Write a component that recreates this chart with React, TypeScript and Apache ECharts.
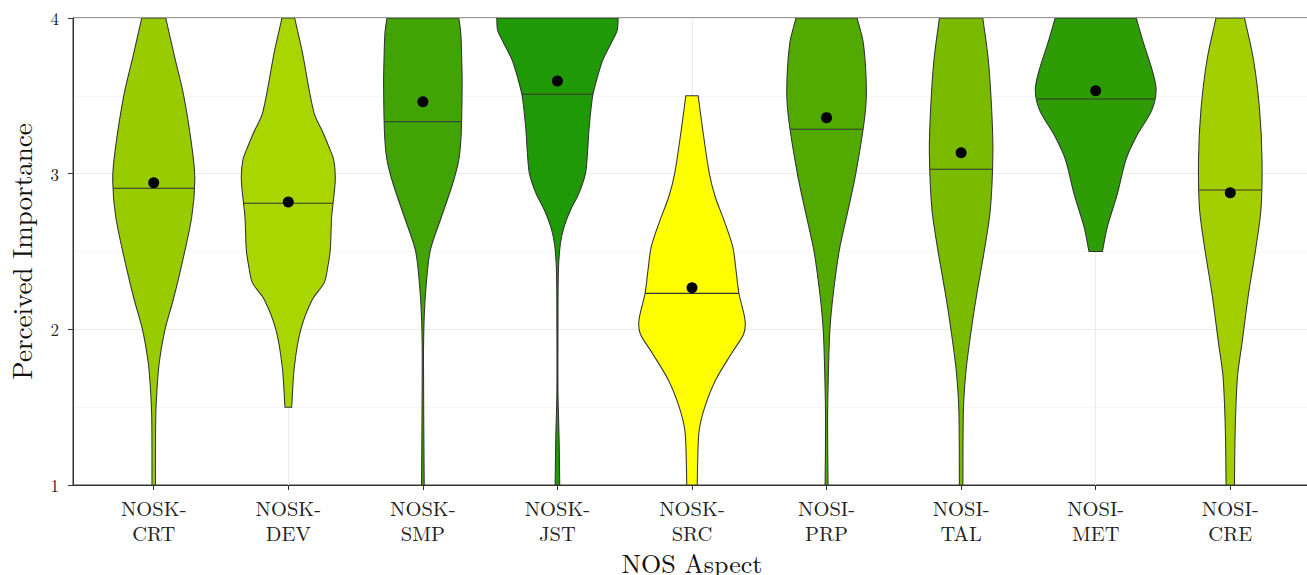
import React, { useEffect, useRef } from 'react';
import * as echarts from 'echarts';

const categories = ['NOSK-\nCRT', 'NOSK-\nDEV', 'NOSK-\nSMP', 'NOSK-\nJST', 'NOSK-\nSRC', 'NOSI-\nPRP', 'NOSI-\nTAL', 'NOSI-\nMET', 'NOSI-\nCRE'];
const categoryPositions = [1, 2, 3, 4, 5, 6, 7, 8, 9];
const fillColors = ['#99CC00', '#A9D500', '#41A304', '#1F9905', '#FFFF00', '#52A900', '#7ABB00', '#2E9C05', '#A3CF00'];
const means = [2.942, 2.818, 3.462, 3.595, 2.267, 3.36, 3.135, 3.533, 2.878];
const medians = [2.906, 2.81, 3.334, 3.51, 2.231, 3.285, 3.028, 3.48, 2.895];
const yTicks = [1, 2, 3, 4];

// Violin outlines: response levels and half-widths (in category units)
const crtLevels = [4, 3.75, 3.5, 3.15, 2.96, 2.72, 2.4, 2.19, 2.0, 1.8, 1.65, 1.44, 1];
const crtWidths = [0.089, 0.155, 0.223, 0.287, 0.305, 0.282, 0.204, 0.145, 0.084, 0.043, 0.027, 0.015, 0.013];
const devLevels = [4, 3.79, 3.39, 3.26, 3.17, 3.09, 2.96, 2.72, 2.51, 2.4, 2.3, 2.19, 2.0, 1.76, 1.5];
const devWidths = [0.047, 0.102, 0.191, 0.26, 0.303, 0.337, 0.349, 0.322, 0.312, 0.293, 0.267, 0.178, 0.093, 0.045, 0.025];
const smpLevels = [4, 3.9, 3.69, 3.58, 3.26, 3.09, 2.94, 2.72, 2.51, 2.3, 2.08, 1.8, 1.0];
const smpWidths = [0.267, 0.282, 0.29, 0.292, 0.285, 0.267, 0.223, 0.137, 0.056, 0.026, 0.01, 0.0045, 0.01];
const jstLevels = [4, 3.92, 3.84, 3.73, 3.62, 3.5, 3.3, 3.13, 3.0, 2.87, 2.77, 2.66, 2.55, 2.38, 2.0, 1.6, 1.27, 1.0];
const jstWidths = [0.451, 0.444, 0.4, 0.337, 0.297, 0.262, 0.236, 0.223, 0.208, 0.158, 0.099, 0.05, 0.022, 0.0074, 0.004, 0.004, 0.013, 0.017];
const srcLevels = [3.5, 3.28, 3.0, 2.85, 2.7, 2.53, 2.38, 2.23, 2.06, 1.97, 1.85, 1.67, 1.5, 1.35, 1.14, 1.0];
const srcWidths = [0.046, 0.08, 0.129, 0.173, 0.238, 0.303, 0.327, 0.349, 0.394, 0.384, 0.297, 0.173, 0.095, 0.053, 0.042, 0.039];
const prpLevels = [4, 3.84, 3.54, 3.345, 3.0, 2.77, 2.51, 2.23, 2.0, 1.7, 1.4, 1.0];
const prpWidths = [0.227, 0.273, 0.296, 0.281, 0.217, 0.161, 0.095, 0.05, 0.025, 0.013, 0.0074, 0.011];
const talLevels = [4, 3.73, 3.41, 3.13, 2.77, 2.51, 2.23, 2.0, 1.74, 1.48, 1.0];
const talWidths = [0.161, 0.202, 0.227, 0.236, 0.217, 0.173, 0.117, 0.076, 0.037, 0.017, 0.013];
const metLevels = [4, 3.84, 3.67, 3.54, 3.41, 3.24, 3.09, 2.87, 2.66, 2.5];
const metWidths = [0.301, 0.355, 0.418, 0.449, 0.418, 0.303, 0.225, 0.161, 0.087, 0.05];
const creLevels = [4, 3.73, 3.41, 3.09, 2.77, 2.51, 2.23, 1.91, 1.7, 1.37, 1.0];
const creWidths = [0.106, 0.173, 0.218, 0.236, 0.228, 0.188, 0.136, 0.087, 0.054, 0.037, 0.031];

const profiles = [
  { levels: crtLevels, widths: crtWidths },
  { levels: devLevels, widths: devWidths },
  { levels: smpLevels, widths: smpWidths },
  { levels: jstLevels, widths: jstWidths },
  { levels: srcLevels, widths: srcWidths },
  { levels: prpLevels, widths: prpWidths },
  { levels: talLevels, widths: talWidths },
  { levels: metLevels, widths: metWidths },
  { levels: creLevels, widths: creWidths },
];

const FONT = "'Latin Modern Roman', 'CMU Serif', 'Liberation Serif', serif";

function widthAt(levels: number[], widths: number[], v: number): number {
  for (let k = 0; k < levels.length - 1; k++) {
    const a = levels[k];
    const b = levels[k + 1];
    if ((v <= a && v >= b) || (v >= a && v <= b)) {
      const t = (v - a) / (b - a);
      return widths[k] + t * (widths[k + 1] - widths[k]);
    }
  }
  return 0;
}

export default function App() {
  const ref = useRef<HTMLDivElement>(null);
  useEffect(() => {
    if (!ref.current) return;
    const chart = echarts.init(ref.current, undefined, { renderer: 'svg' });
    const option: any = {
      animation: false,
      backgroundColor: '#ffffff',
      grid: {
        left: 73,
        top: 18,
        right: -4,
        bottom: 90,
        show: true,
        borderColor: '#333333',
        borderWidth: 1,
        backgroundColor: 'transparent',
        containLabel: false,
        outerBoundsMode: 'none',
      },
      xAxis: {
        type: 'value',
        min: 0.4,
        max: 9.6,
        name: 'NOS Aspect',
        nameLocation: 'middle',
        nameGap: 61,
        nameTextStyle: { fontFamily: FONT, fontSize: 26, color: '#111' },
        axisLine: { show: true, lineStyle: { color: '#333', width: 1 } },
        axisTick: { show: true, length: 5, customValues: categoryPositions, lineStyle: { color: '#333', width: 1 } },
        axisLabel: {
          customValues: categoryPositions,
          formatter: (v: number) => categories[Math.round(v) - 1] ?? '',
          fontFamily: FONT,
          fontSize: 20.5,
          lineHeight: 25,
          margin: 10,
          color: '#222',
        },
        splitLine: { show: true, lineStyle: { color: '#EBEBEB', width: 1 } },
      },
      yAxis: {
        type: 'value',
        min: 1,
        max: 4,
        interval: 1,
        name: 'Perceived Importance',
        nameLocation: 'middle',
        nameGap: 39,
        nameTextStyle: { fontFamily: FONT, fontSize: 27, color: '#111' },
        axisLine: { show: true, lineStyle: { color: '#333', width: 1 } },
        axisTick: { show: true, length: 5, lineStyle: { color: '#333', width: 1 } },
        axisLabel: {
          formatter: (v: number) => (yTicks.includes(v) ? String(v) : ''),
          fontFamily: FONT,
          fontSize: 17,
          margin: 14,
          color: '#222',
        },
        splitLine: { show: true, lineStyle: { color: '#EBEBEB', width: 1 } },
        minorTick: { show: false, splitNumber: 2 },
        minorSplitLine: { show: true, lineStyle: { color: '#F0F0F0', width: 0.6 } },
      },
      series: [
        {
          type: 'custom',
          clip: true,
          data: categoryPositions.map((p, i) => [p, medians[i]]),
          encode: { x: 0, y: 1 },
          renderItem: (params: any, api: any) => {
            const i = params.dataIndex;
            const x = api.value(0);
            const { levels, widths } = profiles[i];
            const right = levels.map((lv, k) => api.coord([x + widths[k], lv]));
            const left = levels.map((lv, k) => api.coord([x - widths[k], lv])).reverse();
            // repeat the end points so the flat ends keep square corners under smoothing
            const pts = [right[0], ...right, right[right.length - 1], left[0], ...left, left[left.length - 1]];
            const med = medians[i];
            const hw = widthAt(levels, widths, med);
            const a = api.coord([x - hw, med]);
            const b = api.coord([x + hw, med]);
            return {
              type: 'group',
              children: [
                {
                  type: 'polygon',
                  shape: { points: pts, smooth: 0.3 },
                  style: { fill: fillColors[i], stroke: '#333333', lineWidth: 1.05 },
                },
                {
                  type: 'line',
                  shape: { x1: a[0], y1: a[1], x2: b[0], y2: b[1] },
                  style: { stroke: '#333333', lineWidth: 1.05 },
                },
              ],
            };
          },
          z: 2,
        },
        {
          type: 'scatter',
          data: categoryPositions.map((p, i) => [p, means[i]]),
          symbol: 'circle',
          symbolSize: 11,
          itemStyle: { color: '#000000', opacity: 1 },
          z: 5,
        },
      ],
    };
    chart.setOption(option);
    return () => chart.dispose();
  }, []);
  return (
    <div
      ref={ref}
      style={{ position: 'fixed', left: 0, top: 0, width: 1307, height: 575, background: '#fff' }}
    />
  );
}
